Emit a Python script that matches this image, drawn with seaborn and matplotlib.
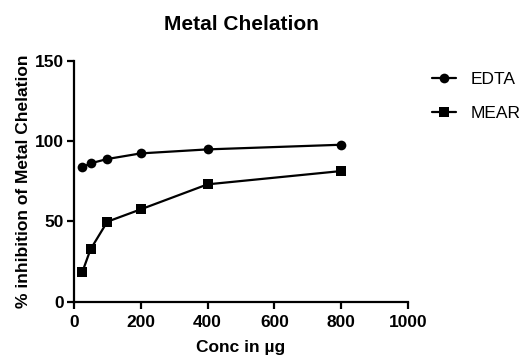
import matplotlib
matplotlib.use("Agg")
import matplotlib.pyplot as plt
import seaborn as sns
import pandas as pd

conc = [25, 50, 100, 200, 400, 800]
edta = [83.7, 86.2, 88.9, 92.4, 94.9, 97.8]
mear = [18.2, 32.6, 49.8, 57.5, 73.1, 81.4]
series_names = ["EDTA", "MEAR"]
x_ticks = [0, 200, 400, 600, 800, 1000]
y_ticks = [0, 50, 100, 150]

df = pd.DataFrame({
    "conc": conc * 2,
    "value": edta + mear,
    "series": [series_names[0]] * len(conc) + [series_names[1]] * len(conc),
})

sns.set_style("ticks")
plt.rcParams["font.family"] = ["Liberation Sans", "DejaVu Sans"]
plt.rcParams["text.color"] = "black"
plt.rcParams["axes.labelcolor"] = "black"
plt.rcParams["xtick.color"] = "black"
plt.rcParams["ytick.color"] = "black"

fig = plt.figure(figsize=(5.2, 3.59), dpi=100)
ax = fig.add_axes([0.142, 0.160, 0.643, 0.670])

sns.lineplot(data=df, x="conc", y="value", hue="series", style="series",
             markers={"EDTA": "o", "MEAR": "s"}, dashes=False,
             palette={"EDTA": "black", "MEAR": "black"},
             linewidth=1.6, markersize=7, markeredgewidth=0, ax=ax)

ax.set_xlim(0, 1000)
ax.set_ylim(0, 150)
ax.set_xticks(x_ticks)
ax.set_yticks(y_ticks)
for lab in ax.get_xticklabels() + ax.get_yticklabels():
    lab.set_fontweight("bold")
    lab.set_fontsize(12.5)
ax.tick_params(axis="x", width=1.6, length=5, direction="out", pad=5)
ax.tick_params(axis="y", width=1.6, length=5, direction="out", pad=2)
for s in ["left", "bottom"]:
    ax.spines[s].set_linewidth(1.6)
    ax.spines[s].set_color("black")
sns.despine(ax=ax)

ax.set_xlabel("Conc in µg", fontsize=12.5, fontweight="bold", labelpad=7)
ax.set_ylabel("% inhibition of Metal Chelation", fontsize=12.5, fontweight="bold", labelpad=3)
ax.set_title("Metal Chelation", fontsize=15, fontweight="bold", pad=22)

handles, labels = ax.get_legend_handles_labels()
ax.legend(handles, labels, loc="upper left", bbox_to_anchor=(1.025, 1.02),
          frameon=False, fontsize=12.5, handlelength=1.4, handletextpad=0.8,
          labelspacing=1.1)

fig.savefig("out.png", dpi=100)
